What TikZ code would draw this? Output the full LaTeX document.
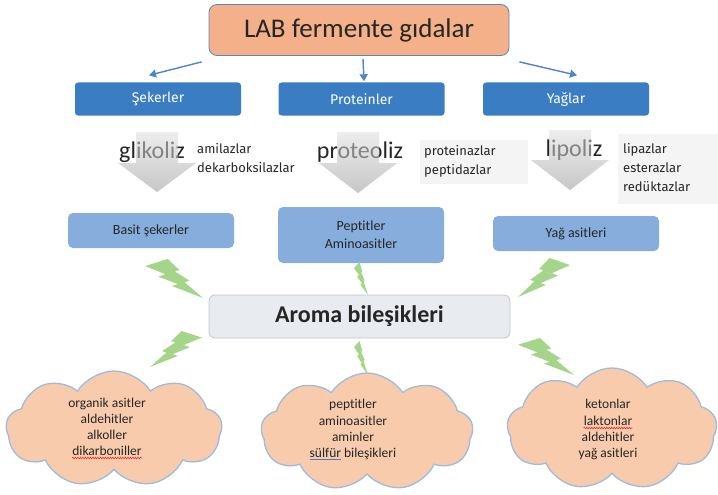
\documentclass[tikz,border=0pt]{standalone}
\usepackage{fontspec}
\setmainfont{Carlito}[Ligatures=NoCommon]
\newfontfamily\dinfont{Fira Sans}[Ligatures=NoCommon]
\usetikzlibrary{shapes.symbols,arrows.meta,decorations.pathmorphing,calc}
\definecolor{titlefill}{HTML}{F4B089}
\definecolor{titleborder}{HTML}{5B86B8}
\definecolor{blueA}{HTML}{3B7DC3}
\definecolor{blueB}{HTML}{86ADDC}
\definecolor{arrowblue}{HTML}{4A86C8}
\definecolor{aromafill}{HTML}{E8EBEF}
\definecolor{aromaborder}{HTML}{C3C7CC}
\definecolor{cloudfill}{HTML}{F8CBAD}
\definecolor{cloudborder}{HTML}{9DBCDD}
\definecolor{boltgreen}{HTML}{A5D58A}
\definecolor{enzbg}{HTML}{F4F4F4}
\definecolor{txt}{HTML}{262626}
\definecolor{squigred}{HTML}{E0302A}
\definecolor{ulblue}{HTML}{4A7FC1}
\newcommand\mybolt[4]{%
  \begin{scope}[shift={(#1,#2)},xscale=#3,yscale=#4]
    \fill[boltgreen] (0.392,0)--(0,0.182)--(0.350,0.390)--(0.231,0.450)--(0.565,0.644)--(0.462,0.691)--(1,1)--(0.684,0.598)--(0.767,0.557)--(0.511,0.317)--(0.594,0.283)--cycle;
  \end{scope}}
\newcommand\grayarr[5]{% cx, top, neck, tip, options
  \path[grayarrow,#5] ({#1-21},#2)--({#1+21},#2)--({#1+21},#3)--({#1+39},#3)--(#1,#4)--({#1-39},#3)--({#1-21},#3)--cycle;}
\newcommand\blueul[1]{\setbox0\hbox{#1}\rlap{\color{ulblue}\rule[-2.6pt]{\wd0}{0.7pt}}\box0\relax}
\begin{document}
\begin{tikzpicture}[x=1pt,y=-1pt,
  every node/.style={text=txt,inner sep=0pt},
  titlebox/.style={draw=titleborder,line width=0.8pt,fill=titlefill,rounded corners=8pt,minimum width=300pt,minimum height=51pt,font=\fontsize{27}{30}\selectfont},
  topbox/.style={fill=blueA,rounded corners=3pt,minimum width=166pt,minimum height=33pt,text=white,font=\dinfont\fontsize{14}{16}\selectfont},
  midbox/.style={fill=blueB,rounded corners=5pt,minimum width=166pt,align=center,font=\fontsize{14}{18}\selectfont},
  aromabox/.style={fill=aromafill,draw=aromaborder,line width=0.8pt,rounded corners=6pt,minimum width=301pt,minimum height=43pt,font=\bfseries\fontsize{24}{28}\selectfont},
  procword/.style={font=\fontsize{24}{28}\selectfont},
  enz/.style={font=\dinfont\fontsize{13}{19}\selectfont,anchor=west,align=left},
  cloudshape/.style={cloud,cloud puffs=9,cloud puff arc=115,cloud ignores aspect,fill=cloudfill,draw=cloudborder,line width=1.3pt},
  cloudtxt/.style={font=\fontsize{13.5}{16}\selectfont,anchor=base},
  thinarrow/.style={draw=arrowblue,line width=1.4pt,-{Triangle[length=7pt,width=8pt]}},
  grayarrow/.style={top color=black!7,bottom color=black!22},
  squig/.style={draw=squigred,line width=0.6pt,decorate,decoration={snake,amplitude=0.8pt,segment length=2.5pt}}]
\useasboundingbox (0,0) rectangle (718,495);

% title and first row
\node[titlebox] (title) at (359,30) {LAB fermente gıdalar};
\node[topbox] (sek) at (158,99) {Şekerler};
\node[topbox] (prot) at (361.5,99) {Proteinler};
\node[topbox] (yag) at (566,99) {Yağlar};

\coordinate (t1) at ($(title.south west)+(-7,6)$);
\coordinate (t2) at ($(title.south)+(4,3)$);
\coordinate (t3) at ($(title.south east)+(10,6)$);
\draw[thinarrow] (t1) -- ($(sek.north)+(-9,-7)$);
\draw[thinarrow] (t2) -- ($(prot.north)+(2.5,-1)$);
\draw[thinarrow] (t3) -- ($(yag.north)+(11,-7)$);

% enzyme backgrounds
\fill[enzbg] (420,140) rectangle (528,184);
\fill[enzbg] (618,134) rectangle (718,204);

% block arrows, words, overlay
\grayarr{157}{132}{163}{192}{}
\grayarr{358}{132}{163}{193}{}
\grayarr{570}{130}{160}{190}{}
\node[procword] (gli) at (152,152) {glikoliz};
\node[procword] (pro) at (360,152) {proteoliz};
\node[procword] (lip) at (574,150) {lipoliz};
\grayarr{157}{132}{163}{192}{fill opacity=0.5}
\grayarr{358}{132}{163}{193}{fill opacity=0.5}
\grayarr{570}{130}{160}{190}{fill opacity=0.5}

\node[enz] (e1) at (197,158) {amilazlar\\dekarboksilazlar};
\node[enz] (e2) at (424,161) {proteinazlar\\peptidazlar};
\node[enz] (e3) at (623,168) {lipazlar\\esterazlar\\redüktazlar};

% second row
\node[midbox,minimum height=35pt] (bas) at (151,230.5) {Basit şekerler};
\node[midbox,minimum height=56pt] (pep) at (361,235) {Peptitler\\Aminoasitler};
\node[midbox,minimum height=35pt] (yas) at (576,233.5) {Yağ asitleri};

% aroma
\node[aromabox] (aro) at (359.5,316.5) {Aroma bileşikleri};

% bolts
\mybolt{145}{259}{58}{39}
\mybolt{354}{262}{14}{33}
\mybolt{570}{258}{-52}{39}
\mybolt{202}{331}{-52}{36}
\mybolt{354}{341}{14}{34}
\mybolt{518}{338}{56}{37}

% clouds
\node[cloudshape,minimum width=216pt,minimum height=116pt] (cl1) at (114,429) {};
\node[cloudshape,minimum width=212pt,minimum height=118pt] (cl2) at (367,432) {};
\node[cloudshape,minimum width=210pt,minimum height=122pt] (cl3) at (612,429) {};

\node[cloudtxt] (c1a) at (107,407) {organik asitler};
\node[cloudtxt] (c1b) at (107,423) {aldehitler};
\node[cloudtxt] (c1c) at (107,439) {alkoller};
\node[cloudtxt] (c1d) at (107,455) {dikarboniller};
\draw[squig] ($(c1d.base west)+(0,3)$) -- ($(c1d.base east)+(0,3)$);

\node[cloudtxt] (c2a) at (353,408) {peptitler};
\node[cloudtxt] (c2b) at (353,425) {aminoasitler};
\node[cloudtxt] (c2c) at (353,441) {aminler};
\node[cloudtxt] (c2d) at (353,457) {\blueul{sülfür} bileşikleri};

\node[cloudtxt] (c3a) at (608,408) {ketonlar};
\node[cloudtxt] (c3b) at (608,425) {laktonlar};
\node[cloudtxt] (c3c) at (608,441) {aldehitler};
\node[cloudtxt] (c3d) at (608,457) {yağ asitleri};
\draw[squig] ($(c3b.base west)+(0,3)$) -- ($(c3b.base east)+(0,3)$);
\end{tikzpicture}
\end{document}
